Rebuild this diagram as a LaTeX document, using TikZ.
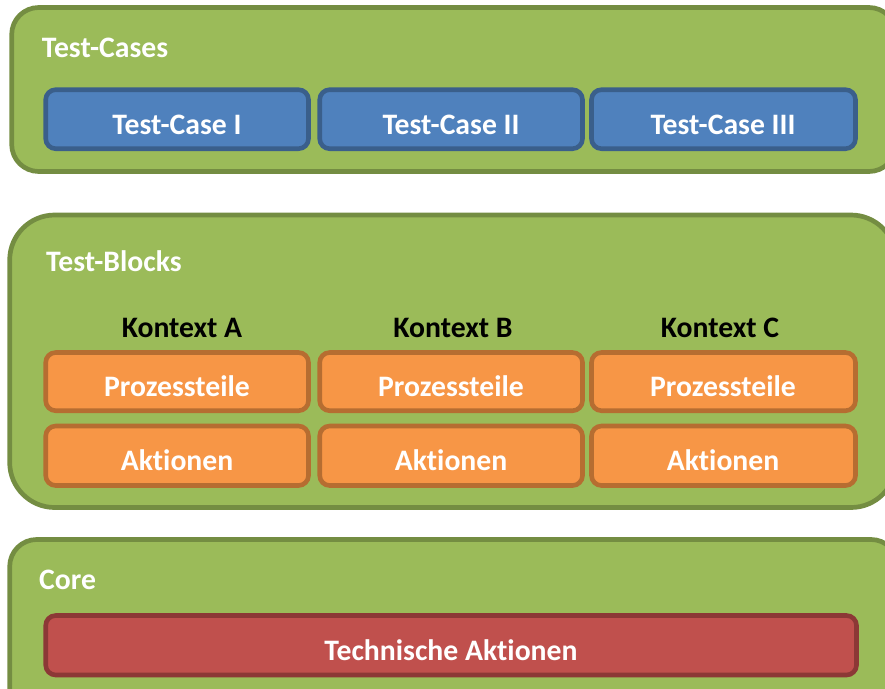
\documentclass[tikz,border=0pt]{standalone}
\usepackage{fontspec}
\setmainfont[Ligatures=NoCommon]{Carlito}
\definecolor{grn}{HTML}{9BBB59}\definecolor{grnb}{HTML}{748D42}
\definecolor{blu}{HTML}{4F81BD}\definecolor{blub}{HTML}{3A5F8B}
\definecolor{org}{HTML}{F79646}\definecolor{orgb}{HTML}{B66D31}
\definecolor{rd}{HTML}{C0504D}\definecolor{rdb}{HTML}{8C3836}
\tikzset{
  x=1pt,y=-1pt,
  panel/.style={draw=grnb,fill=grn,line width=4.7pt,rounded corners=#1},
  inner/.style={line width=4.6pt,rounded corners=10pt},
  bluebox/.style={inner,draw=blub,fill=blu},
  orangebox/.style={inner,draw=orgb,fill=org},
  redbox/.style={inner,draw=rdb,fill=rd},
  lbl/.style={font=\fontsize{29.7pt}{36pt}\selectfont\bfseries,inner sep=0pt,anchor=base},
  wlbl/.style={lbl,text=white},
  klbl/.style={lbl,text=black},
  hlbl/.style={lbl,text=white,anchor=base west},
}
\begin{document}
\begin{tikzpicture}
\clip (0,0) rectangle (885,688);
\path[panel=27pt] (11.7,7.5) rectangle (896,171.5);
\path[panel=45pt] (9.7,215) rectangle (896,507.5);
\path[panel=27pt] (9.7,539.5) rectangle (898,720);
\node[hlbl] (tc) at (41.7,57) {Test-Cases};
\node[hlbl] (tb) at (46,271) {Test-Blocks};
\node[hlbl] (co) at (39,589) {Core};
\path[bluebox] (45.7,89.7) rectangle (308.5,148.7);
\path[bluebox] (319.7,89.7) rectangle (582.5,148.7);
\path[bluebox] (591.5,89.7) rectangle (855.5,148.7);
\node[wlbl] (c1) at (177,134) {Test-Case I};
\node[wlbl] (c2) at (451,134) {Test-Case II};
\node[wlbl] (c3) at (723,134) {Test-Case III};
\node[klbl] (ka) at (182,337) {Kontext A};
\node[klbl] (kb) at (453,337) {Kontext B};
\node[klbl] (kc) at (720,337) {Kontext C};
\foreach \a/\b/\n in {45.7/308.5/a,319.7/582.5/b,591.5/855.5/c}{
  \path[orangebox] (\a,352.5) rectangle (\b,410.7);
  \path[orangebox] (\a,426) rectangle (\b,485.5);
}
\node[wlbl] (pa) at (177,396) {Prozessteile};
\node[wlbl] (pb) at (451,396) {Prozessteile};
\node[wlbl] (pc) at (723,396) {Prozessteile};
\node[wlbl] (aa) at (177,470) {Aktionen};
\node[wlbl] (ab) at (451,470) {Aktionen};
\node[wlbl] (ac) at (723,470) {Aktionen};
\path[redbox] (45.7,615.5) rectangle (856.5,675);
\node[wlbl] (ta) at (451,660) {Technische Aktionen};
\end{tikzpicture}
\end{document}
